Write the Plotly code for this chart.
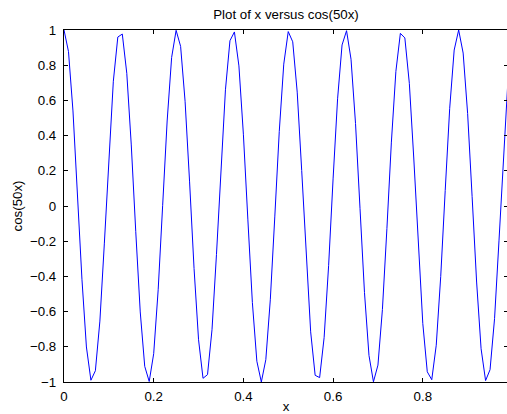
import plotly.graph_objects as go

x_vals = [round(0.01 * k, 2) for k in range(100)]
y_vals = [1.000, 0.878, 0.540, 0.071, -0.416, -0.801, -0.990, -0.936, -0.654, -0.211,
          0.284, 0.709, 0.960, 0.977, 0.754, 0.347, -0.146, -0.602, -0.911, -0.997,
          -0.839, -0.476, 0.004, 0.483, 0.844, 0.998, 0.907, 0.595, 0.137, -0.355,
          -0.760, -0.979, -0.958, -0.703, -0.275, 0.220, 0.660, 0.939, 0.989, 0.796,
          0.408, -0.079, -0.548, -0.882, -1.000, -0.873, -0.533, -0.062, 0.424, 0.806,
          0.991, 0.933, 0.647, 0.202, -0.292, -0.715, -0.962, -0.975, -0.748, -0.339,
          0.154, 0.609, 0.915, 0.996, 0.834, 0.469, -0.013, -0.491, -0.849, -0.999,
          -0.904, -0.588, -0.128, 0.363, 0.765, 0.981, 0.955, 0.697, 0.267, -0.228,
          -0.667, -0.942, -0.987, -0.791, -0.400, 0.088, 0.555, 0.886, 1.000, 0.869,
          0.525, 0.053, -0.432, -0.811, -0.992, -0.930, -0.640, -0.194, 0.300, 0.721]
x_ticks = [0, 0.2, 0.4, 0.6, 0.8]
x_tick_labels = ["0", "0.2", "0.4", "0.6", "0.8"]
y_ticks = [-1, -0.8, -0.6, -0.4, -0.2, 0, 0.2, 0.4, 0.6, 0.8, 1]
y_tick_labels = ["\u22121", "\u22120.8", "\u22120.6", "\u22120.4", "\u22120.2", "0",
                 "0.2", "0.4", "0.6", "0.8", "1"]

fig = go.Figure(go.Scatter(x=x_vals, y=y_vals, mode="lines",
                           line=dict(color="rgb(0,0,255)", width=1)))

FS = 13.3
font = dict(family="Liberation Sans, Arial, Helvetica, sans-serif", size=FS, color="black")
fig.update_layout(
    width=508, height=414,
    margin=dict(l=64, r=0, t=30, b=32),
    paper_bgcolor="white", plot_bgcolor="white",
    showlegend=False,
    font=font,
    title=dict(text="Plot of x versus cos(50x)", x=0.5, xanchor="center", xref="paper",
               y=1 - 14 / 414, yanchor="middle", font=dict(size=FS)),
    xaxis=dict(range=[0, 0.99], tickvals=x_ticks, ticktext=x_tick_labels,
               ticks="inside", ticklen=4, tickcolor="black", tickwidth=1,
               showline=True, linecolor="black", linewidth=1.2, mirror="ticks",
               showgrid=False, zeroline=False, ticklabelstandoff=2,
               title=dict(text="x", standoff=2, font=dict(size=FS))),
    yaxis=dict(range=[-1, 1], tickvals=y_ticks, ticktext=y_tick_labels,
               ticks="inside", ticklen=4, tickcolor="black", tickwidth=1,
               showline=True, linecolor="black", linewidth=1.2, mirror="ticks",
               showgrid=False, zeroline=False, ticklabelstandoff=4,
               title=dict(text="cos(50x)", standoff=4, font=dict(size=FS))),
)
fig.write_html("out.html", config={"displayModeBar": False},
               post_script="document.body.style.margin='0';document.body.style.overflow='hidden';")
